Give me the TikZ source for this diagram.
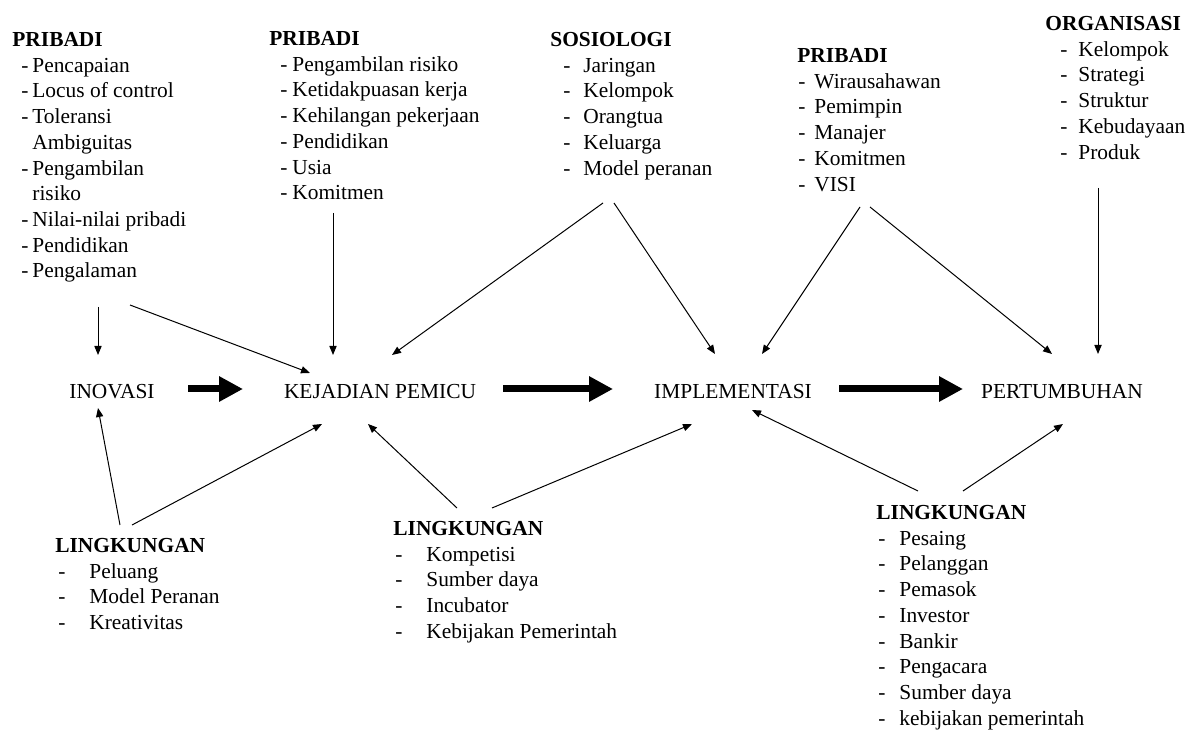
\documentclass[tikz,border=0pt]{standalone}
\usepackage{fontspec}
\setmainfont{Liberation Serif}
\usetikzlibrary{arrows.meta}
\newcommand{\butir}[3]{\hspace*{#1pt}\makebox[#2pt][l]{-}#3}

\begin{document}
\begin{tikzpicture}[x=0.5pt, y=-0.5pt,
	font=\fontsize{10.7}{12.85}\selectfont,
	blok/.style={anchor=north west, align=left, inner sep=0pt},
	tahap/.style={inner sep=0pt},
	panah/.style={-{Triangle[length=4.5pt,width=3.6pt]}, line width=0.5pt},
	panahbesar/.style={-{Triangle[length=12pt,width=12pt]}, line width=3.5pt}]
				\useasboundingbox (0,0) rectangle (1199,731);
				% tahapan utama
				\node[tahap] (ino)at(112, 392) {INOVASI};
				\node[tahap] (kej)at(380, 392) {KEJADIAN PEMICU};
				\node[tahap] (impl)at(733, 392) {IMPLEMENTASI};
				\node[tahap] (pert)at(1062, 392) {PERTUMBUHAN};
				% faktor di atas
				\node[blok] (pribA)at(12, 32) {\textbf{PRIBADI}\\ \butir{4.5}{5.5}{Pencapaian}\\ \butir{4.5}{5.5}{Locus of control}\\ \butir{4.5}{5.5}{Toleransi}\\ \hspace*{10pt}Ambiguitas\\ \butir{4.5}{5.5}{Pengambilan}\\ \hspace*{10pt}risiko\\ \butir{4.5}{5.5}{Nilai-nilai pribadi}\\ \butir{4.5}{5.5}{Pendidikan}\\ \butir{4.5}{5.5}{Pengalaman}};
				\node[blok] (pribB)at(269, 31) {\textbf{PRIBADI}\\ \butir{5.5}{6}{Pengambilan risiko}\\ \butir{5.5}{6}{Ketidakpuasan kerja}\\ \butir{5.5}{6}{Kehilangan pekerjaan}\\ \butir{5.5}{6}{Pendidikan}\\ \butir{5.5}{6}{Usia}\\ \butir{5.5}{6}{Komitmen}};
				\node[blok] (sosio)at(550, 32) {\textbf{SOSIOLOGI}\\ \butir{6.5}{10}{Jaringan}\\ \butir{6.5}{10}{Kelompok}\\ \butir{6.5}{10}{Orangtua}\\ \butir{6.5}{10}{Keluarga}\\ \butir{6.5}{10}{Model peranan}};
				\node[blok] (pribC)at(797, 48) {\textbf{PRIBADI}\\ \butir{0.5}{8}{Wirausahawan}\\ \butir{0.5}{8}{Pemimpin}\\ \butir{0.5}{8}{Manajer}\\ \butir{0.5}{8}{Komitmen}\\ \butir{0.5}{8}{VISI}};
				\node[blok] (org)at(1045, 16) {\textbf{ORGANISASI}\\ \butir{7.5}{9}{Kelompok}\\ \butir{7.5}{9}{Strategi}\\ \butir{7.5}{9}{Struktur}\\ \butir{7.5}{9}{Kebudayaan}\\ \butir{7.5}{9}{Produk}};
				% lingkungan di bawah
				\node[blok] (lingA)at(55, 538) {\textbf{LINGKUNGAN}\\ \butir{1.5}{15.5}{Peluang}\\ \butir{1.5}{15.5}{Model Peranan}\\ \butir{1.5}{15.5}{Kreativitas}};
				\node[blok] (lingB)at(393, 521) {\textbf{LINGKUNGAN}\\ \butir{1}{15.5}{Kompetisi}\\ \butir{1}{15.5}{Sumber daya}\\ \butir{1}{15.5}{Incubator}\\ \butir{1}{15.5}{Kebijakan Pemerintah}};
				\node[blok] (lingC)at(876, 505) {\textbf{LINGKUNGAN}\\ \butir{1}{10.5}{Pesaing}\\ \butir{1}{10.5}{Pelanggan}\\ \butir{1}{10.5}{Pemasok}\\ \butir{1}{10.5}{Investor}\\ \butir{1}{10.5}{Bankir}\\ \butir{1}{10.5}{Pengacara}\\ \butir{1}{10.5}{Sumber daya}\\ \butir{1}{10.5}{kebijakan pemerintah}};
				% panah tebal
				\draw[panahbesar] ([shift={(76,-3)}]ino.center) -- ([shift={(-137,-3)}]kej.center);
				\draw[panahbesar] ([shift={(123,-3)}]kej.center) -- ([shift={(-120,-3)}]impl.center);
				\draw[panahbesar] ([shift={(106,-3)}]impl.center) -- ([shift={(-99,-3)}]pert.center);
				% panah dari atas
				\draw[panah] ([shift={(86,275)}]pribA.north west) -- ([shift={(-14,-37)}]ino.center);
				\draw[panah] ([shift={(118,273)}]pribA.north west) -- ([shift={(-70,-19)}]kej.center);
				\draw[panah] ([shift={(64,182)}]pribB.north west) -- ([shift={(-47,-37)}]kej.center);
				\draw[panah] ([shift={(53,171)}]sosio.north west) -- ([shift={(12,-37)}]kej.center);
				\draw[panah] ([shift={(64,171)}]sosio.north west) -- ([shift={(-18,-38)}]impl.center);
				\draw[panah] ([shift={(63,159)}]pribC.north west) -- ([shift={(29,-38)}]impl.center);
				\draw[panah] ([shift={(73,159)}]pribC.north west) -- ([shift={(-10,-38)}]pert.center);
				\draw[panah] ([shift={(53,172)}]org.north west) -- ([shift={(36,-38)}]pert.center);
				% panah dari bawah
				\draw[panah] ([shift={(65,-13)}]lingA.north west) -- ([shift={(-14,16)}]ino.center);
				\draw[panah] ([shift={(77,-13)}]lingA.north west) -- ([shift={(-58,32)}]kej.center);
				\draw[panah] ([shift={(64,-13)}]lingB.north west) -- ([shift={(-12,32)}]kej.center);
				\draw[panah] ([shift={(99,-13)}]lingB.north west) -- ([shift={(-41,32)}]impl.center);
				\draw[panah] ([shift={(42,-14)}]lingC.north west) -- ([shift={(19,18)}]impl.center);
				\draw[panah] ([shift={(87,-14)}]lingC.north west) -- ([shift={(1,32)}]pert.center);
			\end{tikzpicture}
\end{document}
